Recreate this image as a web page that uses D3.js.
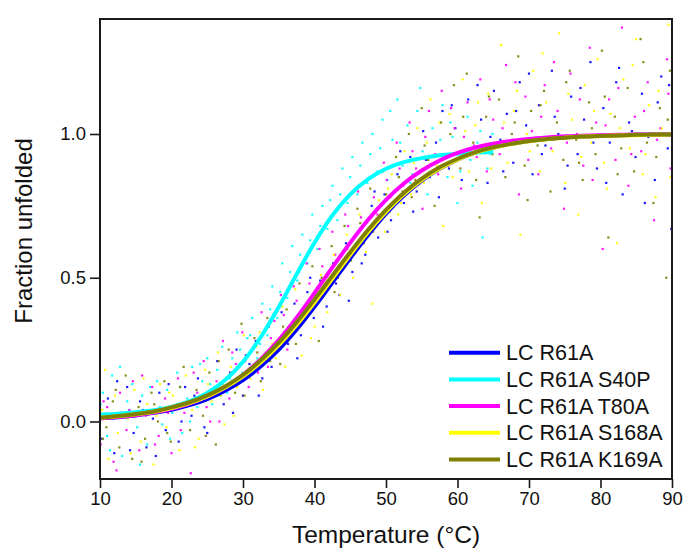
<!DOCTYPE html>
<html>
<head>
<meta charset="utf-8">
<script src="https://cdn.jsdelivr.net/npm/d3@7"></script>
<style>
  body { margin: 0; background: #fff; }
  text { font-family: "Liberation Sans", Arial, sans-serif; fill: #111; }
</style>
</head>
<body>
<div class="chart"></div>
<script>
// fitted curves, every 2.5 °C
const curveT = [10, 12.5, 15, 17.5, 20, 22.5, 25, 27.5, 30, 32.5, 35, 37.5, 40, 42.5, 45, 47.5, 50,
  52.5, 55, 57.5, 60, 62.5, 65, 67.5, 70, 72.5, 75, 77.5, 80, 82.5, 85, 87.5, 90];
const blueFit = [0.011, 0.015, 0.021, 0.030, 0.041, 0.057, 0.078, 0.107, 0.144, 0.192, 0.250, 0.320, 0.399,
  0.483, 0.568, 0.649, 0.723, 0.786, 0.838, 0.879, 0.911, 0.935, 0.953, 0.966, 0.976, 0.983, 0.988, 0.991,
  0.994, 0.996, 0.997, 0.998, 0.998];
const cyanFit = [0.024, 0.027, 0.032, 0.039, 0.051, 0.070, 0.099, 0.144, 0.208, 0.294, 0.398, 0.512, 0.622,
  0.717, 0.790, 0.843, 0.879, 0.902, 0.916, 0.926, 0.931, 0.935, 0.937];
const magentaFit = [0.011, 0.016, 0.022, 0.031, 0.044, 0.062, 0.087, 0.119, 0.162, 0.217, 0.283, 0.361, 0.447,
  0.536, 0.622, 0.702, 0.771, 0.828, 0.873, 0.908, 0.934, 0.953, 0.966, 0.976, 0.983, 0.988, 0.992, 0.994,
  0.996, 0.997, 0.998, 0.998, 0.999];
const yellowFit = [0.013, 0.018, 0.025, 0.034, 0.047, 0.064, 0.087, 0.118, 0.157, 0.206, 0.266, 0.336, 0.414,
  0.497, 0.580, 0.659, 0.729, 0.790, 0.840, 0.880, 0.911, 0.935, 0.952, 0.965, 0.975, 0.982, 0.987, 0.991,
  0.993, 0.995, 0.996, 0.997, 0.998];
const oliveFit = [0.013, 0.019, 0.026, 0.035, 0.049, 0.067, 0.091, 0.122, 0.162, 0.213, 0.274, 0.345, 0.424,
  0.507, 0.589, 0.667, 0.736, 0.796, 0.845, 0.884, 0.914, 0.937, 0.954, 0.966, 0.976, 0.983, 0.987, 0.991,
  0.993, 0.995, 0.997, 0.998, 0.998];

// measured points [temperature, fraction]
const blueDots = [[10.2,-0.06],[11.1,0.08],[12.0,-0.11],[12.9,0.03],[13.8,0.12],[14.7,-0.04],[15.6,0.07],
  [16.5,-0.09],[17.4,0.01],[18.3,0.10],[19.2,-0.03],[20.1,0.05],[21.0,-0.07],[21.9,0.12],[22.8,0.02],
  [23.7,0.15],[24.6,-0.02],[25.5,0.11],[26.4,0.21],[27.3,0.06],[28.2,0.17],[29.1,0.25],[30.0,0.09],
  [30.9,0.20],[31.8,0.28],[32.7,0.15],[33.6,0.33],[34.5,0.24],[35.4,0.38],[36.3,0.27],[37.2,0.41],
  [38.1,0.30],[39.0,0.45],[39.9,0.36],[40.8,0.49],[41.7,0.40],[42.6,0.55],[43.5,0.44],[44.4,0.62],
  [45.3,0.52],[46.2,0.66],[47.1,0.58],[48.0,0.75],[48.9,0.64],[49.8,0.79],[50.7,0.70],[51.6,0.86],
  [52.5,0.76],[53.4,0.92],[54.3,0.80],[55.2,1.01],[56.1,0.85],[57.0,0.97],[57.9,1.08],[58.8,0.88],
  [59.7,1.02],[60.6,0.84],[61.5,1.12],[62.4,0.95],[63.3,1.05],[64.2,0.83],[65.1,1.15],[66.0,0.98],
  [66.9,1.07],[67.8,0.90],[68.7,1.18],[69.6,1.03],[70.5,0.86],[71.4,1.10],[72.3,0.96],[73.2,1.22],
  [74.1,1.00],[75.0,0.81],[75.9,1.13],[76.8,0.93],[77.7,1.05],[78.6,1.25],[79.5,0.88],[80.4,1.09],
  [81.3,0.97],[82.2,1.18],[83.1,0.79],[84.0,1.04],[84.9,0.92],[85.8,1.14],[86.7,0.99],[87.6,0.84],
  [88.5,1.20],[89.4,0.95],[89.9,0.67],
  [10.6,0.02],[12.4,0.14],[14.2,-0.10],[16.0,0.04],[17.8,-0.12],[19.6,0.13],[21.4,0.00],[23.2,0.09],
  [25.0,-0.04],[26.8,0.13],[28.6,0.03],[30.4,0.23],[32.2,0.09],[34.0,0.19],[35.8,0.31],[37.6,0.22],
  [39.4,0.50],[41.2,0.33],[43.0,0.48],[44.8,0.42],[46.6,0.55],[48.4,0.80],[50.2,0.66],[52.0,0.94],
  [53.8,0.73],[55.6,0.91],[57.4,0.78],[59.2,1.10],[61.0,0.93],[62.8,1.17],[64.6,0.99],[66.4,0.87],
  [68.2,1.08],[70.0,1.21],[71.8,0.93],[73.6,1.06],[75.4,0.89],[77.2,1.16],[79.0,0.97],[80.8,0.83],
  [82.6,1.23],[84.4,1.01],[86.2,0.76],[88.0,1.11],[89.6,1.17]];
const cyanDots = [[10.4,0.10],[11.0,-0.05],[11.7,0.16],[12.4,0.02],[13.1,-0.12],[13.8,0.07],[14.5,0.13],
  [15.2,-0.02],[15.9,0.09],[16.6,-0.08],[17.3,0.04],[18.0,0.14],[18.7,-0.01],[19.4,0.11],[20.1,0.03],
  [20.8,0.17],[21.5,-0.04],[22.2,0.08],[22.9,0.19],[23.6,0.05],[24.3,0.14],[25.0,0.22],[25.7,0.06],
  [26.4,0.18],[27.1,0.26],[27.8,0.10],[28.5,0.22],[29.2,0.31],[29.9,0.17],[30.6,0.29],[31.3,0.36],
  [32.0,0.22],[32.7,0.41],[33.4,0.30],[34.1,0.47],[34.8,0.36],[35.5,0.55],[36.2,0.43],[36.9,0.61],
  [37.6,0.49],[38.3,0.65],[39.0,0.55],[39.7,0.72],[40.4,0.60],[41.1,0.75],[41.8,0.67],[42.5,0.82],
  [43.2,0.70],[43.9,0.88],[44.6,0.76],[45.3,0.92],[46.0,0.79],[46.7,0.97],[47.4,0.83],[48.1,1.00],
  [48.8,0.87],[49.5,1.05],[50.2,0.84],[50.9,0.98],[51.6,1.12],[52.3,0.89],[53.0,1.03],[53.7,0.86],
  [54.4,1.08],[55.1,0.94],[55.8,0.79],[56.5,1.02],[57.2,0.90],[57.9,1.10],[58.6,0.85],[59.3,0.99],
  [60.0,0.76],[60.7,0.94],[61.4,1.06],[62.1,0.82],[62.8,0.97],[63.5,0.64],[64.2,0.88],[64.9,1.00],
  [10.1,0.06],[11.4,-0.10],[12.8,0.19],[14.1,0.04],[15.6,-0.15],[17.0,0.12],[18.4,0.05],[19.8,-0.06],
  [21.2,0.12],[22.6,0.00],[24.0,0.20],[25.4,0.13],[26.8,0.09],[28.2,0.15],[29.6,0.25],[31.0,0.30],
  [32.4,0.27],[33.8,0.39],[35.2,0.45],[36.6,0.52],[38.0,0.58],[39.4,0.63],[40.8,0.68],[42.2,0.77],
  [43.6,0.79],[45.0,0.85],[46.4,0.89],[47.8,0.93],[49.2,0.95],[50.6,1.08],[52.0,0.97],[53.4,0.83],
  [54.8,1.16],[56.2,0.92],[57.6,0.98],[59.0,1.04],[60.4,0.87],[61.8,0.91],[63.2,1.01],[64.6,0.93]];
const magentaDots = [[10.1,-0.08],[11.0,0.05],[11.9,-0.14],[12.8,0.10],[13.7,-0.03],[14.6,0.14],[15.5,-0.10],
  [16.4,0.02],[17.3,0.12],[18.2,-0.05],[19.1,0.08],[20.0,-0.11],[20.9,0.15],[21.8,0.03],[22.7,-0.18],
  [23.6,0.10],[24.5,0.21],[25.4,0.00],[26.3,0.14],[27.2,0.28],[28.1,0.08],[29.0,0.20],[29.9,0.31],
  [30.8,0.12],[31.7,0.27],[32.6,0.38],[33.5,0.19],[34.4,0.35],[35.3,0.44],[36.2,0.25],[37.1,0.47],
  [38.0,0.34],[38.9,0.55],[39.8,0.40],[40.7,0.60],[41.6,0.47],[42.5,0.66],[43.4,0.54],[44.3,0.72],
  [45.2,0.59],[46.1,0.80],[47.0,0.65],[47.9,0.85],[48.8,0.72],[49.7,0.90],[50.6,0.78],[51.5,0.97],
  [52.4,0.82],[53.3,1.04],[54.2,0.88],[55.1,0.74],[56.0,1.08],[56.9,0.93],[57.8,1.15],[58.7,0.89],
  [59.6,1.02],[60.5,0.81],[61.4,1.11],[62.3,0.96],[63.2,1.19],[64.1,0.87],[65.0,1.05],[65.9,0.93],
  [66.8,1.24],[67.7,0.98],[68.6,0.79],[69.5,1.13],[70.4,1.01],[71.3,0.86],[72.2,1.17],[73.1,0.95],
  [74.0,1.08],[74.9,0.74],[75.8,1.21],[76.7,1.00],[77.6,0.89],[78.5,1.30],[79.4,1.04],[80.3,0.60],
  [81.2,1.12],[82.1,0.91],[83.0,1.37],[83.9,0.82],[84.8,1.06],[85.7,0.94],[86.6,1.18],[87.5,0.70],
  [88.4,1.02],[89.3,1.26],[89.8,0.88],
  [10.5,0.07],[12.3,-0.17],[14.1,0.04],[15.9,0.16],[17.7,-0.08],[19.5,0.03],[21.3,-0.03],[23.1,0.17],
  [24.9,0.05],[26.7,0.00],[28.5,0.24],[30.3,0.21],[32.1,0.17],[33.9,0.29],[35.7,0.37],[37.5,0.42],
  [39.3,0.48],[41.1,0.54],[42.9,0.58],[44.7,0.68],[46.5,0.71],[48.3,0.78],[50.1,0.84],[51.9,0.88],
  [53.7,0.94],[55.5,0.99],[57.3,0.86],[59.1,1.09],[60.9,0.99],[62.7,0.92],[64.5,1.12],[66.3,1.02],
  [68.1,1.18],[69.9,0.91],[71.7,1.06],[73.5,1.25],[75.3,0.97],[77.1,1.12],[78.9,0.84],[80.7,1.03],
  [82.5,1.16],[84.3,0.93],[86.1,1.08],[87.9,0.98],[89.5,1.14]];
const yellowDots = [[10.3,0.04],[11.2,-0.13],[12.1,0.09],[13.0,-0.20],[13.9,0.01],[14.8,0.11],[15.7,-0.07],
  [16.6,0.06],[17.5,-0.15],[18.4,0.13],[19.3,-0.02],[20.2,0.09],[21.1,-0.10],[22.0,0.16],[22.9,0.04],
  [23.8,-0.06],[24.7,0.18],[25.6,0.07],[26.5,0.24],[27.4,-0.01],[28.3,0.19],[29.2,0.12],[30.1,0.30],
  [31.0,0.15],[31.9,0.26],[32.8,0.11],[33.7,0.34],[34.6,0.22],[35.5,0.40],[36.4,0.28],[37.3,0.46],
  [38.2,0.23],[39.1,0.42],[40.0,0.33],[40.9,0.51],[41.8,0.38],[42.7,0.58],[43.6,0.44],[44.5,0.65],
  [45.4,0.50],[46.3,0.72],[47.2,0.59],[48.1,0.41],[49.0,0.77],[49.9,0.66],[50.8,0.86],[51.7,0.72],
  [52.6,0.94],[53.5,0.79],[54.4,1.02],[55.3,0.83],[56.2,1.12],[57.1,0.89],[58.0,0.68],[58.9,1.07],
  [59.8,0.93],[60.7,1.19],[61.6,0.87],[62.5,1.03],[63.4,0.76],[64.3,1.14],[65.2,0.96],[66.1,1.31],
  [67.0,0.90],[67.9,1.08],[68.8,0.65],[69.7,1.00],[70.6,1.22],[71.5,0.87],[72.4,1.11],[73.3,0.94],
  [74.2,1.35],[75.1,0.83],[76.0,1.05],[76.9,0.72],[77.8,1.17],[78.7,0.97],[79.6,1.26],[80.5,0.90],
  [81.4,1.07],[82.3,0.62],[83.2,1.19],[84.1,0.95],[85.0,1.33],[85.9,0.86],[86.8,1.10],[87.7,0.78],
  [88.6,1.02],[89.5,1.38],
  [10.7,0.18],[12.5,-0.04],[14.3,-0.11],[16.1,0.15],[17.9,0.02],[19.7,0.10],[21.5,0.05],[23.3,-0.09],
  [25.1,0.13],[26.9,0.09],[28.7,0.02],[30.5,0.22],[32.3,0.31],[34.1,0.27],[35.9,0.19],[37.7,0.36],
  [39.5,0.29],[41.3,0.44],[43.1,0.52],[44.9,0.58],[46.7,0.63],[48.5,0.73],[50.3,0.81],[52.1,0.76],
  [53.9,0.90],[55.7,0.97],[57.5,1.04],[59.3,0.85],[61.1,1.01],[62.9,1.11],[64.7,0.88],[66.5,1.04],
  [68.3,1.15],[70.1,0.94],[71.9,1.28],[73.7,0.99],[75.5,1.14],[77.3,0.92],[79.1,1.08],[80.9,0.81],
  [82.7,1.02],[84.5,1.24],[86.3,0.93],[88.1,1.15],[89.8,0.85]];
const oliveDots = [[10.0,0.12],[10.9,-0.02],[11.8,0.07],[12.7,-0.09],[13.6,0.16],[14.5,-0.13],[15.4,0.05],
  [16.3,-0.06],[17.2,0.10],[18.1,0.00],[19.0,0.14],[19.9,-0.07],[20.8,0.06],[21.7,0.19],[22.6,-0.03],
  [23.5,0.11],[24.4,0.02],[25.3,0.17],[26.2,-0.08],[27.1,0.13],[28.0,0.25],[28.9,0.10],[29.8,0.34],
  [30.7,0.18],[31.6,0.29],[32.5,0.14],[33.4,0.36],[34.3,0.25],[35.2,0.20],[36.1,0.39],[37.0,0.31],
  [37.9,0.48],[38.8,0.36],[39.7,0.54],[40.6,0.28],[41.5,0.47],[42.4,0.61],[43.3,0.50],[44.2,0.68],
  [45.1,0.56],[46.0,0.74],[46.9,0.62],[47.8,0.81],[48.7,0.70],[49.6,0.87],[50.5,0.73],[51.4,0.92],
  [52.3,0.80],[53.2,1.00],[54.1,0.84],[55.0,1.09],[55.9,0.91],[56.8,0.75],[57.7,1.04],[58.6,0.92],
  [59.5,1.17],[60.4,0.88],[61.3,1.21],[62.2,0.97],[63.1,0.71],[64.0,1.06],[64.9,0.93],[65.8,1.12],
  [66.7,0.85],[67.6,1.00],[68.5,1.27],[69.4,0.89],[70.3,1.08],[71.2,0.96],[72.1,1.15],[73.0,0.80],
  [73.9,1.04],[74.8,0.91],[75.7,1.22],[76.6,0.98],[77.5,0.84],[78.4,1.11],[79.3,0.93],[80.2,1.29],
  [81.1,0.64],[82.0,1.06],[82.9,0.95],[83.8,1.16],[84.7,0.87],[85.6,1.33],[86.5,0.97],[87.4,0.76],
  [88.3,1.09],[89.2,0.50],[89.7,1.22],
  [10.4,-0.06],[12.2,0.11],[14.0,0.03],[15.8,-0.14],[17.6,0.06],[19.4,-0.04],[21.2,0.12],[23.0,0.07],
  [24.8,-0.05],[26.6,0.21],[28.4,0.17],[30.2,0.09],[32.0,0.24],[33.8,0.21],[35.6,0.33],[37.4,0.27],
  [39.2,0.42],[41.0,0.50],[42.8,0.45],[44.6,0.60],[46.4,0.69],[48.2,0.66],[50.0,0.79],[51.8,0.85],
  [53.6,0.78],[55.4,0.96],[57.2,0.87],[59.0,1.00],[60.8,1.06],[62.6,0.84],[64.4,1.13],[66.2,0.96],
  [68.0,1.04],[69.8,0.77],[71.6,1.10],[73.4,0.98],[75.2,1.18],[77.0,0.90],[78.8,1.02],[80.6,1.13],
  [82.4,0.86],[84.2,1.00],[86.0,1.25],[87.8,0.92],[89.4,1.05]];

const seriesNames = ["LC R61A", "LC R61A S40P", "LC R61A T80A", "LC R61A S168A", "LC R61A K169A"];
const seriesColors = ["#0000ff", "#00ffff", "#ff00ff", "#ffff00", "#808000"];
const xTicks = [10, 20, 30, 40, 50, 60, 70, 80, 90];
const yTicks = [0.0, 0.5, 1.0];

const fits = [blueFit, cyanFit, magentaFit, yellowFit, oliveFit];
const dots = [blueDots, cyanDots, magentaDots, yellowDots, oliveDots];

const width = 684, height = 550;
const margin = {left: 100, right: 12, top: 19, bottom: 71};

const svg = d3.select('.chart').append('svg')
  .attr('width', width)
  .attr('height', height);

const x = d3.scaleLinear().domain([10, 90]).range([margin.left, width - margin.right]);
const y = d3.scaleLinear().domain([-0.2, 1.4]).range([height - margin.bottom, margin.top]);

svg.append('clipPath').attr('id', 'plot-clip')
  .append('rect')
  .attr('x', x(10)).attr('y', y(1.4))
  .attr('width', x(90) - x(10)).attr('height', y(-0.2) - y(1.4));

const plot = svg.append('g').attr('clip-path', 'url(#plot-clip)');

// scattered points first, curves on top
dots.forEach((pts, i) => {
  plot.append('g').selectAll('rect')
    .data(pts)
    .enter()
    .append('rect')
    .attr('x', d => x(d[0]) - 1.1)
    .attr('y', d => y(d[1]) - 1.1)
    .attr('width', 2.2)
    .attr('height', 2.2)
    .attr('fill', seriesColors[i])
    .attr('opacity', 0.9);
});

const line = d3.line()
  .x(d => x(d[0]))
  .y(d => y(d[1]))
  .curve(d3.curveMonotoneX);

fits.forEach((vals, i) => {
  plot.append('path')
    .datum(vals.map((v, j) => [curveT[j], v]))
    .attr('d', line)
    .attr('fill', 'none')
    .attr('stroke', seriesColors[i])
    .attr('stroke-width', 4);
});

// axes
const xAxis = svg.append('g')
  .attr('transform', `translate(0,${y(-0.2)})`)
  .call(d3.axisBottom(x).tickValues(xTicks).tickFormat(d3.format('d')).tickSize(9).tickPadding(4));
const yAxis = svg.append('g')
  .attr('transform', `translate(${x(10)},0)`)
  .call(d3.axisLeft(y).tickValues(yTicks).tickFormat(d3.format('.1f')).tickSize(10).tickPadding(4));

[xAxis, yAxis].forEach(a => {
  a.select('.domain').remove();
  a.selectAll('line').attr('stroke', '#1a1a1a').attr('stroke-width', 1.6);
  a.selectAll('text').attr('font-size', 18.5).attr('fill', '#111')
    .attr('font-family', '"Liberation Sans", Arial, sans-serif');
});

// frame
svg.append('rect')
  .attr('x', x(10)).attr('y', y(1.4))
  .attr('width', x(90) - x(10)).attr('height', y(-0.2) - y(1.4))
  .attr('fill', 'none')
  .attr('stroke', '#1a1a1a')
  .attr('stroke-width', 2);

svg.append('text')
  .attr('x', (x(10) + x(90)) / 2)
  .attr('y', 543)
  .attr('text-anchor', 'middle')
  .attr('font-size', 24.5)
  .text('Temperature (°C)');

svg.append('text')
  .attr('transform', 'translate(32,231) rotate(-90)')
  .attr('text-anchor', 'middle')
  .attr('font-size', 24)
  .text('Fraction unfolded');

// legend
const legend = svg.append('g').selectAll('g')
  .data(seriesNames)
  .enter()
  .append('g')
  .attr('transform', (d, i) => `translate(449,${352.7 + i * 26.7})`);

legend.append('line')
  .attr('x1', 0).attr('x2', 51)
  .attr('stroke', (d, i) => seriesColors[i])
  .attr('stroke-width', 4);

legend.append('text')
  .attr('x', 57)
  .attr('y', 7.5)
  .attr('font-size', 21.5)
  .text(d => d);
</script>
</body>
</html>
